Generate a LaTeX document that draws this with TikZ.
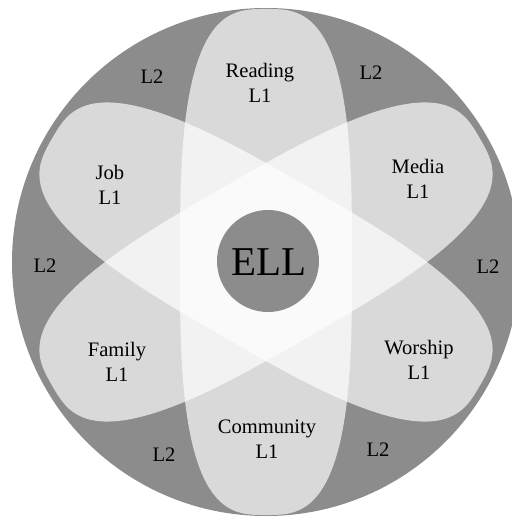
\documentclass[tikz,border=0pt]{standalone}
\usepackage{fontspec}
\setmainfont{Liberation Serif}
\definecolor{ringgray}{gray}{0.55}
\begin{document}
\begin{tikzpicture}[
    x=0.2mm, y=0.2mm,
    petal/.style={fill=white, fill opacity=0.67},
    firstlang/.style={align=center, font=\fontsize{11.7}{14.2}\selectfont, inner sep=0pt},
    secondlang/.style={font=\fontsize{11.7}{14.2}\selectfont, inner sep=0pt}
]
  \useasboundingbox (-266,-255) rectangle (246,262);

  %--- outer ring and petals (superellipses) ---
  \fill[ringgray] (0,0) circle (254);
  \foreach \ang/\len in {90/253,30/247,150/247}
    \fill[petal, rotate=\ang]
      plot[domain=1:359, samples=180, variable=\t]
        ({\len*sign(cos(\t))*abs(cos(\t))^(0.6667)},
         {86*sign(sin(\t))*abs(sin(\t))^(0.6667)}) -- cycle;
  \fill[ringgray] (2,1) circle (51);

  %--- L1 labels ---
  \node[firstlang] (reading)   at (-6,179.5)   {Reading\\L1};
  \node[firstlang] (job)       at (-156,77.5)  {Job\\L1};
  \node[firstlang] (media)     at (152,83.5)   {Media\\L1};
  \node[firstlang] (family)    at (-149,-99.5) {Family\\L1};
  \node[firstlang] (worship)   at (153,-97.5)  {Worship\\L1};
  \node[firstlang] (community) at (1,-177.5)   {Community\\L1};

  %--- L2 labels ---
  \node[secondlang] (l2a) at (-114,185) {L2};
  \node[secondlang] (l2b) at (105,189)  {L2};
  \node[secondlang] (l2c) at (-221,-4)  {L2};
  \node[secondlang] (l2d) at (222,-5)   {L2};
  \node[secondlang] (l2e) at (-102,-193) {L2};
  \node[secondlang] (l2f) at (112,-188) {L2};

  \node[inner sep=0pt, font=\fontsize{23.3}{26}\selectfont] (ell) at (3,0) {ELL};
\end{tikzpicture}
\end{document}
